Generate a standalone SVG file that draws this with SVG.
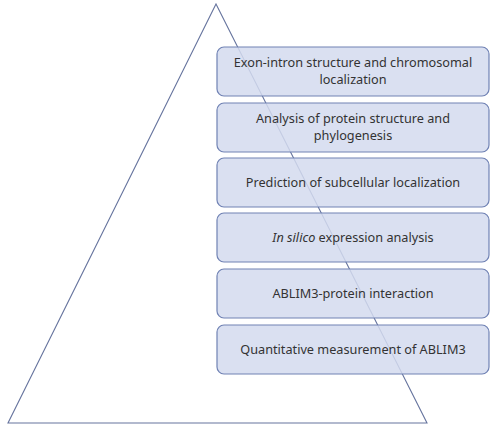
<svg xmlns="http://www.w3.org/2000/svg" width="500" height="429" viewBox="0 0 500 429">
<style>
.box{fill:#d3daef;fill-opacity:0.85;stroke:#7082b4;stroke-width:1.2}
.t{font-family:"Noto Sans","Liberation Sans",sans-serif;font-size:12.7px;fill:#333;text-anchor:middle}
.tri{fill:none;stroke:#66749e;stroke-width:1.1}
</style>
<rect width="500" height="429" fill="#fff"/>
<g id="pyramid"><polygon class="tri" points="216,4 427,423 8,423"/></g>
<g id="n1"><rect class="box" x="217" y="47" width="272" height="49" rx="7"/><text class="t" x="353" y="67">Exon-intron structure and chromosomal</text><text class="t" x="353" y="84">localization</text></g>
<g id="n2"><rect class="box" x="217" y="103" width="272" height="49" rx="7"/><text class="t" x="353" y="123">Analysis of protein structure and</text><text class="t" x="353" y="140">phylogenesis</text></g>
<g id="n3"><rect class="box" x="217" y="158" width="272" height="49" rx="7"/><text class="t" x="353" y="187">Prediction of subcellular localization</text></g>
<g id="n4"><rect class="box" x="217" y="213" width="272" height="49" rx="7"/><text class="t" x="353" y="242"><tspan font-style="italic">In silico</tspan> expression analysis</text></g>
<g id="n5"><rect class="box" x="217" y="269" width="272" height="49" rx="7"/><text class="t" x="353" y="298">ABLIM3-protein interaction</text></g>
<g id="n6"><rect class="box" x="217" y="325" width="272" height="49" rx="7"/><text class="t" x="353" y="354">Quantitative measurement of ABLIM3</text></g>
<g id="connectors"></g>
</svg>
